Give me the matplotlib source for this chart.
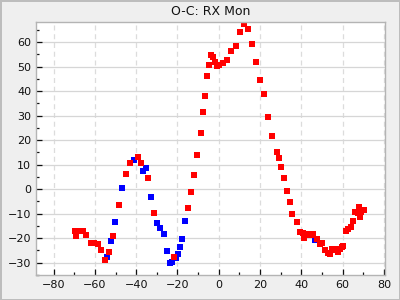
import matplotlib
matplotlib.use("Agg")
import matplotlib.pyplot as plt
from matplotlib.ticker import MultipleLocator

# red observations (epoch, O-C)
red_x = [-69.7, -69.1, -67.8, -65.7, -64.2, -62.1, -60.2, -58.4, -57.0, -55.1,
         -53.1, -51.2, -48.3, -44.9, -43.0, -39.1, -37.7, -34.3, -31.4, -21.5,
         -14.9, -13.5, -12.1, -10.6, -8.8, -7.7, -6.8, -5.8, -4.8, -3.9,
         -2.9, -1.9, -1.0, 0.0, 1.9, 3.9, 5.8, 8.2, 10.1, 12.1,
         14.0, 15.9, 17.9, 19.8, 21.7, 23.7, 25.6, 28.0, 29.0, 30.0,
         31.4, 32.9, 34.3, 35.7, 37.7, 39.1, 40.6, 41.5, 42.5, 43.5,
         44.5, 45.4, 47.8, 48.8, 50.2, 51.3, 52.7, 53.7, 54.6, 55.6,
         56.5, 57.5, 58.5, 59.5, 60.4, 61.8, 62.8, 63.8, 65.2, 66.2,
         67.2, 68.1, 68.6, 69.1, 70.1]
red_y = [-17.3, -19.2, -17.3, -17.0, -18.9, -22.2, -22.2, -22.6, -24.9, -29.1,
         -25.8, -19.3, -6.7, 6.0, 10.5, 12.9, 10.5, 4.4, -9.9, -27.9,
         -7.9, -1.3, 5.6, 13.8, 22.7, 31.3, 37.8, 46.0, 50.5, 54.6,
         53.8, 51.7, 50.1, 50.5, 51.3, 52.5, 56.2, 58.2, 64.0, 67.2,
         65.2, 59.1, 51.7, 44.4, 38.7, 29.3, 21.5, 15.0, 12.5, 8.9,
         4.4, -0.9, -5.4, -10.3, -13.6, -17.7, -18.1, -20.1, -18.9, -18.5,
         -18.9, -18.5, -20.5, -22.6, -22.2, -25.0, -26.2, -26.7, -24.6, -25.0,
         -24.6, -25.8, -24.6, -23.8, -23.4, -17.3, -16.4, -15.6, -13.2, -9.5,
         -9.9, -7.5, -11.6, -9.5, -8.7]

# blue observations
blue_x = [-54.0, -52.1, -50.2, -46.8, -41.0, -36.7, -35.2, -32.8, -29.9, -28.5,
          -26.6, -25.1, -23.6, -22.7, -20.8, -19.8, -18.8, -17.8, -16.4, 46.4]
blue_y = [-27.9, -21.4, -13.6, 0.3, 11.7, 7.2, 8.4, -3.4, -14.0, -16.0,
          -18.5, -25.4, -30.3, -29.9, -28.3, -26.7, -23.8, -20.5, -13.2, -20.9]

fig = plt.figure(figsize=(4, 3), dpi=100, facecolor="#efefef",
                 edgecolor="#bdbdbd", linewidth=2)
ax = fig.add_axes([0.09, 0.0833, 0.8725, 0.8434])

ax.plot(blue_x, blue_y, "s", color="#0000ff", markersize=4.3, markeredgewidth=0)
ax.plot(red_x, red_y, "s", color="#ff0000", markersize=4.3, markeredgewidth=0)

ax.set_xlim(-88.5, 80.5)
ax.set_ylim(-35.1, 68.2)
ax.xaxis.set_major_locator(MultipleLocator(20))
ax.xaxis.set_minor_locator(MultipleLocator(10))
ax.yaxis.set_major_locator(MultipleLocator(10))
ax.yaxis.set_minor_locator(MultipleLocator(5))

ax.grid(True, axis="x", which="major", color="#dcdcdc", linestyle=(0, (4, 3)), linewidth=0.9)
ax.grid(True, axis="y", which="major", color="#d6d6d6", linestyle="-", linewidth=0.9)
ax.set_axisbelow(True)

ax.tick_params(which="both", direction="in", colors="#111111", labelsize=8,
               top=False, right=False)
ax.tick_params(which="major", length=4, width=0.9)
ax.tick_params(which="minor", length=2.5, width=0.9)
for s in ax.spines.values():
    s.set_color("#b4b4b4")
    s.set_linewidth(1.0)

ax.set_title("O-C: RX Mon", fontsize=9, color="#111111", pad=5)

fig.savefig("out.png", dpi=100, facecolor=fig.get_facecolor(),
            edgecolor=fig.get_edgecolor())
